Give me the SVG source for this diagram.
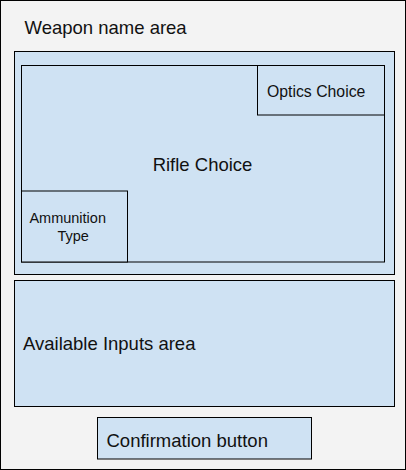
<svg xmlns="http://www.w3.org/2000/svg" width="406" height="470" viewBox="0 0 406 470">
<style>
.box{fill:#cfe2f3;stroke:#000;stroke-width:1}
.t{font-family:"Liberation Sans",Arial,sans-serif;fill:#111}
.l{font-size:18.5px}
.s{font-size:15.8px}
.xs{font-size:14.5px}
</style>
<g id="screen">
<rect x="0.5" y="0.5" width="405" height="469" fill="#f3f3f3" stroke="#000" stroke-width="1"/>
<text class="t l" x="24.5" y="34">Weapon name area</text>
</g>
<g id="weapon-panel">
<rect class="box" x="14.5" y="51.5" width="380" height="223"/>
</g>
<g id="rifle-choice">
<rect class="box" x="21.5" y="65.5" width="363" height="196.5"/>
<text class="t l" x="202.5" y="171" text-anchor="middle">Rifle Choice</text>
</g>
<g id="optics-choice">
<rect class="box" x="257.5" y="65.5" width="127" height="49.5"/>
<text class="t s" x="267" y="97">Optics Choice</text>
</g>
<g id="ammunition-type">
<rect class="box" x="21.5" y="191" width="106" height="71"/>
<text class="t xs" x="67.7" y="222.5" text-anchor="middle">Ammunition</text>
<text class="t xs" x="73.2" y="240.5" text-anchor="middle">Type</text>
</g>
<g id="available-inputs">
<rect class="box" x="14.5" y="280.5" width="380" height="126"/>
<text class="t l" x="23" y="350">Available Inputs area</text>
</g>
<g id="confirmation-button">
<rect class="box" x="97.5" y="417.5" width="214" height="41.5"/>
<text class="t l" x="106.5" y="446.5">Confirmation button</text>
</g>
<g id="connectors"/>
</svg>
